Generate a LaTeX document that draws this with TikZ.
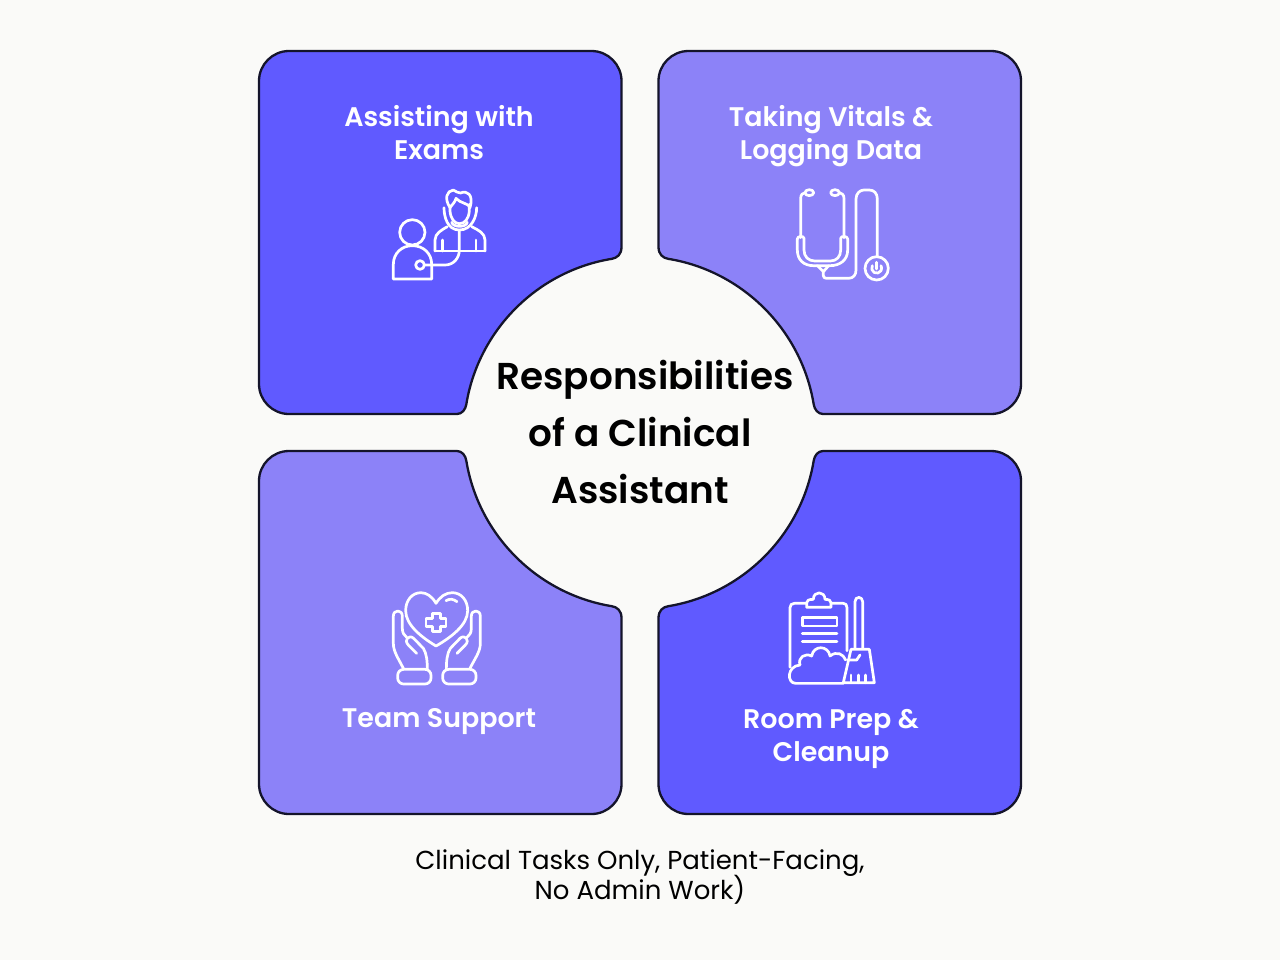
\documentclass[tikz,border=0pt]{standalone}
\usepackage{fontspec}
\setmainfont{Poppins}[BoldFont={Poppins SemiBold}]
\definecolor{bgc}{HTML}{FAFAF8}
\definecolor{darkc}{HTML}{605AFF}
\definecolor{lightc}{HTML}{8C82F8}
\definecolor{edgec}{HTML}{14142B}
\tikzset{
 cardedge/.style={draw=edgec,line width=1.15pt,line join=round},
 cardlabel/.style={text=white,font=\fontsize{13.45}{16.5}\selectfont\bfseries,align=center,inner sep=0pt},
 titlelabel/.style={text=black,font=\fontsize{18.7}{28.5}\selectfont\bfseries,align=center,inner sep=0pt},
 footlabel/.style={text=black,font=\fontsize{13}{15}\selectfont,align=center,inner sep=0pt},
 iconbox/.style 2 args={shift={(#1,#2)},x=0.16667pt,y=-0.16667pt,draw=white,line width=1.35pt,line cap=round,line join=round},
 quarter/.style n args={2}{shift={(640,432.5)},xscale=#1,yscale=#2},
}
\newcommand{\cardshape}[1]{%
 \path[cardedge,fill=#1] (-351,381.5) -- (-48.5,381.5)
  .. controls (-32,381.5) and (-18.5,368) .. (-18.5,351.5)
  -- (-18.5,185.5) .. controls (-18.5,178) and (-23,174.5) .. (-28.1,173.7)
  .. controls (-102.5,161.6) and (-161.6,102.5) .. (-173.7,28.1)
  .. controls (-174.5,23) and (-178,18.5) .. (-183,18.5)
  -- (-351,18.5) .. controls (-367.5,18.5) and (-381,32) .. (-381,48.5)
  -- (-381,351.5) .. controls (-381,368) and (-367.5,381.5) .. (-351,381.5) -- cycle;}
\begin{document}
\begin{tikzpicture}[x=0.5pt,y=-0.5pt]
\useasboundingbox[fill=bgc] (0,0) rectangle (1280,960);
\begin{scope}[quarter={1}{-1}]\cardshape{darkc}\end{scope}
\begin{scope}[quarter={-1}{-1}]\cardshape{lightc}\end{scope}
\begin{scope}[quarter={1}{1}]\cardshape{lightc}\end{scope}
\begin{scope}[quarter={-1}{1}]\cardshape{darkc}\end{scope}

\node[cardlabel] (exams) at (439,133) {Assisting with\\Exams};
\node[cardlabel] (vitals) at (831,136.5) {Taking Vitals \&\\Logging Data};
\node[cardlabel] (team) at (439,722) {Team Support};
\node[cardlabel] (room) at (831,739) {Room Prep \&\\Cleanup};
\node[titlelabel] (title) at (640,431.5) {\hspace*{5pt}Responsibilities\\of a Clinical\\Assistant};
\node[footlabel] (foot) at (640,877) {Clinical Tasks Only, Patient-Facing,\\[-2pt]No Admin Work)};

% icon: patient and doctor
\begin{scope}[iconbox={370}{175}]
 \draw (127,172) circle (38);
 \draw (70,312) -- (70,268) .. controls (70,235) and (95,212) .. (127,212) .. controls (160,212) and (185,235) .. (185,268) -- (185,312) -- cycle;
 \draw (150,270) circle (13);
 \draw (163,270) -- (225,270) .. controls (250,270) and (268,250) .. (268,225) -- (268,165);
 \draw (195,228) -- (195,195) .. controls (195,175) and (215,165) .. (232,155);
 \draw (345,228) -- (345,195) .. controls (345,175) and (325,165) .. (305,155);
 \draw (195,228) -- (345,228);
 \draw (218,195) -- (218,228);
 \draw (318,195) -- (318,228);
 \draw (240,92) -- (240,108) .. controls (242,132) and (254,146) .. (268,146) .. controls (284,146) and (296,132) .. (298,108) -- (298,88);
 \draw (240,98) .. controls (222,70) and (230,48) .. (250,45) .. controls (258,50) and (265,54) .. (272,54) .. controls (290,45) and (312,58) .. (300,98) .. controls (298,85) and (270,85) .. (258,70) .. controls (255,82) and (247,88) .. (240,98) -- cycle;
 \draw (222,98) .. controls (222,125) and (232,165) .. (268,165) .. controls (305,165) and (320,125) .. (320,98);
 \draw (245,142) .. controls (250,158) and (288,158) .. (292,142);
\end{scope}

% icon: stethoscope
\begin{scope}[iconbox={780}{175}]
 \draw (88,53) ellipse (13 and 9);
 \draw (165,53) ellipse (13 and 9);
 \draw (75,53) .. controls (68,53) and (62,60) .. (62,70) -- (62,188);
 \draw (178,53) .. controls (186,53) and (192,60) .. (192,70) -- (192,188);
 \draw (72,190) -- (72,225) .. controls (72,245) and (85,258) .. (105,258) -- (150,258) .. controls (170,258) and (182,245) .. (182,225) -- (182,190) .. controls (182,182) and (203,182) .. (203,192) -- (203,225) .. controls (203,255) and (180,272) .. (150,272) -- (100,272) .. controls (72,272) and (52,255) .. (52,225) -- (52,192) .. controls (52,182) and (72,182) .. (72,190) -- cycle;
 \draw (112,272) -- (130,290) -- (146,272);
 \draw (130,290) -- (130,302) .. controls (130,308) and (135,310) .. (140,310) -- (205,310) .. controls (220,310) and (228,300) .. (228,285) -- (228,72) .. controls (228,55) and (240,45) .. (252,45) -- (268,45) .. controls (282,45) and (292,55) .. (292,72) -- (292,245);
 \draw (290,280) circle (35);
 \draw (277,272) arc[start angle=210,delta angle=-240,radius=15];
 \draw (290,262) -- (290,282);
\end{scope}

% icon: hands and heart
\begin{scope}[iconbox={375}{580}]
 \draw (183,198) .. controls (140,172) and (92,135) .. (92,92) .. controls (92,60) and (112,38) .. (138,38) .. controls (155,38) and (172,50) .. (183,70) .. controls (195,50) and (212,38) .. (232,38) .. controls (258,38) and (278,60) .. (278,92) .. controls (278,135) and (228,172) .. (183,198) -- cycle;
 \draw (172,100) -- (196,100) -- (196,115) -- (213,115) -- (213,140) -- (196,140) -- (196,155) -- (172,155) -- (172,140) -- (153,140) -- (153,115) -- (172,115) -- cycle;
 \draw (213,62) .. controls (225,55) and (235,57) .. (246,65);
 \draw (85,265) .. controls (70,235) and (55,215) .. (55,190) -- (55,108) .. controls (55,88) and (82,88) .. (82,108) -- (82,145) .. controls (82,160) and (88,165) .. (95,172);
 \draw (125,220) -- (100,195) .. controls (85,180) and (102,162) .. (116,175) -- (145,205) .. controls (155,220) and (157,245) .. (157,268);
 \draw[rounded corners=3pt] (68,268) rectangle (168,312);
 \draw (285,265) .. controls (300,235) and (316,215) .. (316,190) -- (316,108) .. controls (316,88) and (289,88) .. (289,108) -- (289,145) .. controls (289,160) and (283,165) .. (276,172);
 \draw (246,220) -- (271,195) .. controls (286,180) and (269,162) .. (255,175) -- (226,205) .. controls (216,220) and (214,245) .. (214,268);
 \draw[rounded corners=3pt] (203,268) rectangle (303,312);
\end{scope}

% icon: clipboard and broom
\begin{scope}[iconbox={775}{580}]
 \draw (95,70) -- (58,70) .. controls (50,70) and (45,75) .. (45,83) -- (45,262);
 \draw (168,70) -- (205,70) .. controls (212,70) and (216,75) .. (216,83) -- (216,212);
 \draw (95,82) -- (95,68) .. controls (95,62) and (100,58) .. (115,58) .. controls (115,32) and (150,32) .. (150,58) .. controls (162,58) and (168,62) .. (168,68) -- (168,82) -- cycle;
 \draw (82,112) rectangle (186,138);
 \draw (82,160) -- (186,160);
 \draw (82,185) -- (186,185);
 \draw (205,310) -- (62,310) .. controls (35,310) and (35,258) .. (75,255) .. controls (68,232) and (90,218) .. (110,228) .. controls (115,195) and (160,195) .. (165,228) .. controls (185,212) and (205,222) .. (212,240);
 \draw (240,205) -- (240,65) .. controls (240,48) and (263,48) .. (263,65) -- (263,205);
 \draw (228,208) -- (283,208) -- (298,308) -- (205,308) -- cycle;
 \draw (228,285) -- (228,308);
 \draw (250,285) -- (250,308);
 \draw (272,285) -- (272,308);
 \draw (218,240) -- (245,240) -- (255,225);
\end{scope}
\end{tikzpicture}
\end{document}
